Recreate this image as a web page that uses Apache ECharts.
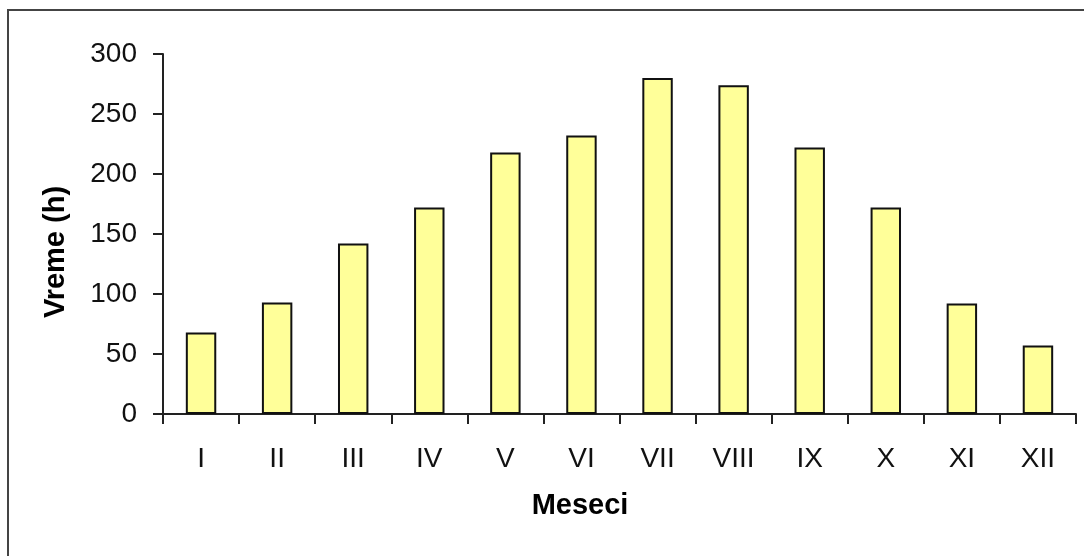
<!DOCTYPE html>
<html>
<head>
<meta charset="utf-8">
<script src="https://cdn.jsdelivr.net/npm/echarts@6/dist/echarts.min.js"></script>
<style>
html,body{margin:0;padding:0;background:#fff;}
#main{width:1084px;height:556px;}
</style>
</head>
<body>
<div id="main"></div>
<script>
const categories = ['I','II','III','IV','V','VI','VII','VIII','IX','X','XI','XII'];
const values = [68, 93, 142, 172, 218, 232, 280, 274, 222, 172, 92, 57];
const yTitle = 'Vreme (h)';
const xTitle = 'Meseci';

const chart = echarts.init(document.getElementById('main'), null, {renderer:'canvas'});
const font = '"Liberation Sans", Arial, sans-serif';
chart.setOption({
  animation: false,
  backgroundColor: '#fff',
  grid: {left: 163, top: 54, right: 8, bottom: 142, containLabel: false},
  xAxis: {
    type: 'category',
    data: categories,
    axisLine: {lineStyle: {color: '#222', width: 2}},
    axisTick: {show: true, length: 10, lineStyle: {color: '#222', width: 2}},
    axisLabel: {color: '#111', fontSize: 28, fontFamily: font, margin: 31}
  },
  yAxis: {
    type: 'value',
    min: 0, max: 300, interval: 50,
    axisLine: {show: true, lineStyle: {color: '#222', width: 2}},
    axisTick: {show: true, length: 10, lineStyle: {color: '#222', width: 2}},
    splitLine: {show: false},
    axisLabel: {color: '#111', fontSize: 28, fontFamily: font, margin: 26}
  },
  series: [{
    type: 'bar',
    data: values,
    barWidth: '40%',
    itemStyle: {color: '#FFFF99', borderColor: '#111', borderWidth: 2}
  }],
  graphic: [
    {type: 'rect', shape: {x: 8, y: 10, width: 1200, height: 700},
     style: {fill: 'none', stroke: '#444', lineWidth: 2}, silent: true, z: -1},
    {type: 'text', x: 56, y: 252, rotation: Math.PI/2,
     style: {text: yTitle, font: 'bold 29px ' + font, fill: '#000', align: 'center', verticalAlign: 'middle'}},
    {type: 'text', x: 580, y: 506,
     style: {text: xTitle, font: 'bold 29px ' + font, fill: '#000', align: 'center', verticalAlign: 'middle'}}
  ]
});
</script>
</body>
</html>
